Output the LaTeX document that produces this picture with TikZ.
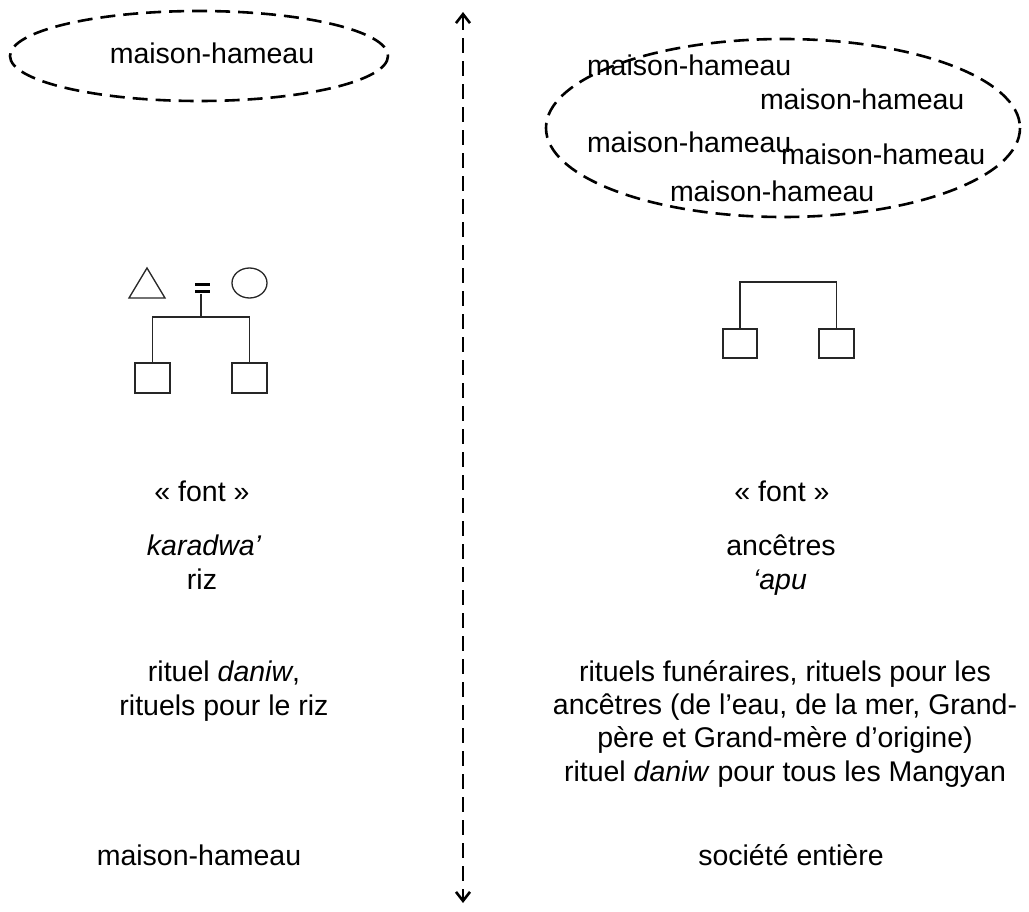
\documentclass[tikz,border=0pt]{standalone}
\usepackage{fontspec}
\setmainfont{Liberation Sans}
\usetikzlibrary{arrows.meta}
\begin{document}
\begin{tikzpicture}[x=1pt,y=-1pt,
  every node/.style={inner sep=0pt,outer sep=0pt},
  txt/.style={font=\fontsize{28.5}{33.3}\selectfont,align=center},
  bigdash/.style={line width=2.6pt,dash pattern=on 15pt off 8pt},
  kin/.style={line width=1.3pt,draw=black!85},
]
\useasboundingbox (0,0) rectangle (1029,912);
% left ellipse
\draw[bigdash] (199,56) ellipse [x radius=189, y radius=45];
\node[txt,anchor=base] (lh) at (212,64) {maison-hameau};
% right ellipse
\draw[bigdash] (783,128) ellipse [x radius=237, y radius=89];
\node[txt,anchor=base west] (r1) at (587,76) {maison-hameau};
\node[txt,anchor=base west] (r2) at (760,110) {maison-hameau};
\node[txt,anchor=base west] (r3) at (587,153) {maison-hameau};
\node[txt,anchor=base west] (r4) at (781,165) {maison-hameau};
\node[txt,anchor=base west] (r5) at (670,202) {maison-hameau};
% vertical divider
\coordinate (vt) at (463,12);
\coordinate (vb) at (463,903);
\draw[bigdash,{Straight Barb[length=9pt,width=14pt,line width=2.6pt]}-{Straight Barb[length=9pt,width=14pt,line width=2.6pt]}] (vt) -- (vb);
% left kinship
\draw[kin] (129,298) -- (147,268) -- (165,298) -- cycle;
\draw[kin] (249.5,283) ellipse [x radius=17.5, y radius=15];
\draw[line width=3pt] (195,285) -- (210,285);
\draw[line width=3pt] (195,292) -- (210,292);
\node (lsq1) [kin,draw,minimum width=35pt,minimum height=30pt] at (152.5,378) {};
\node (lsq2) [kin,draw,minimum width=35pt,minimum height=30pt] at (249.5,378) {};
\coordinate (leq) at (201,294);
\draw[kin] (leq) -- (201,317);
\draw[kin] (lsq1.north) -- (152.5,317) -- (249.5,317) -- (lsq2.north);
% right kinship
\node (rsq1) [kin,draw,minimum width=34pt,minimum height=29pt] at (740,343.5) {};
\node (rsq2) [kin,draw,minimum width=35pt,minimum height=29pt] at (836.5,343.5) {};
\draw[kin] (rsq1.north) -- (740,282) -- (836.5,282) -- (rsq2.north);
% left texts
\node[txt,anchor=base] (lfont) at (202,501) {« font »};
\node[txt,anchor=base] (lkar) at (204,555) {\itshape karadwa’};
\node[txt,anchor=base] (lriz) at (202,589) {riz};
\node[txt,anchor=base] (lrit) at (224,715) {rituel \textit{daniw},\\rituels pour le riz};
\node[txt,anchor=base] (lmh) at (199,865) {maison-hameau};
% right texts
\node[txt,anchor=base] (rfont) at (782,501) {« font »};
\node[txt,anchor=base] (ranc) at (781,555) {ancêtres};
\node[txt,anchor=base] (rapu) at (780,589) {\itshape ‘apu};
\node[txt,anchor=base] (rrit) at (785,781) {rituels funéraires, rituels pour les\\ancêtres (de l’eau, de la mer, Grand-\\père et Grand-mère d’origine)\\rituel \textit{daniw} pour tous les Mangyan};
\node[txt,anchor=base] (rsoc) at (791,865) {société entière};
\end{tikzpicture}
\end{document}
